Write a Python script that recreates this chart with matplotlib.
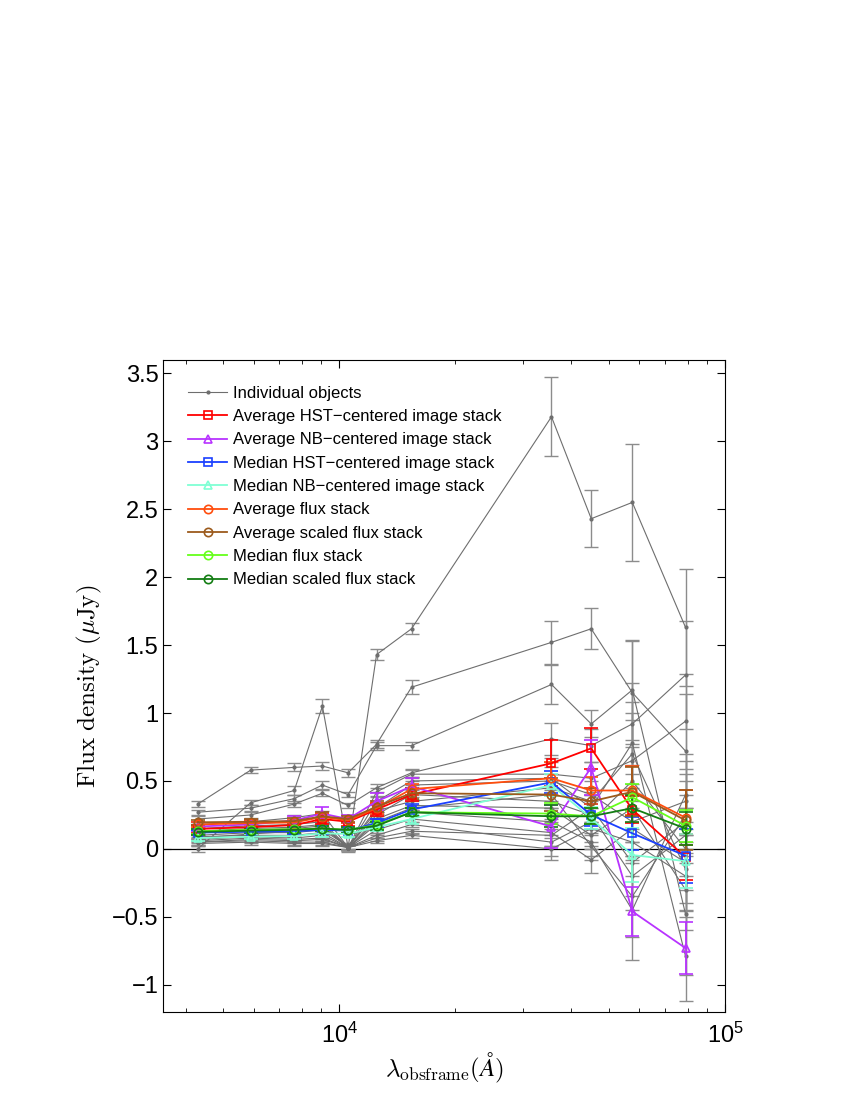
import numpy as np
import matplotlib
matplotlib.use('Agg')
import matplotlib.pyplot as plt

plt.rcParams['font.family'] = ['Liberation Sans', 'DejaVu Sans']
plt.rcParams['mathtext.fontset'] = 'cm'

# observed-frame wavelengths (Angstrom)
wave = [4300, 5900, 7650, 9050, 10550, 12500, 15400, 35500, 45000, 57500, 79000]

# individual objects (uJy) and their errors
objects = [
    [0.00, 0.34, 0.43, 1.05, 0.01, 1.43, 1.62, 3.18, 2.43, 2.55, 1.63],
    [0.33, 0.58, 0.60, 0.61, 0.56, 0.77, 1.19, 1.52, 1.62, 1.15, 0.72],
    [0.27, 0.30, 0.37, 0.47, 0.40, 0.76, 0.76, 1.21, 0.92, 1.17, -0.48],
    [0.22, 0.25, 0.33, 0.41, 0.32, 0.45, 0.56, 0.81, 0.76, 0.92, 1.28],
    [0.18, 0.20, 0.23, 0.26, 0.01, 0.42, 0.55, 0.55, 0.52, 0.65, 0.94],
    [0.15, 0.17, 0.18, 0.20, 0.01, 0.35, 0.50, 0.52, 0.30, 0.78, -0.79],
    [0.12, 0.14, 0.15, 0.17, 0.01, 0.30, 0.47, 0.50, 0.40, 0.20, 0.35],
    [0.10, 0.12, 0.12, 0.14, 0.02, 0.25, 0.40, 0.35, 0.25, -0.20, 0.10],
    [0.09, 0.10, 0.10, 0.12, 0.01, 0.22, 0.32, 0.30, 0.10, 0.30, -0.30],
    [0.07, 0.09, 0.08, 0.10, 0.01, 0.18, 0.27, 0.20, 0.05, -0.45, 0.40],
    [0.06, 0.08, 0.07, 0.08, 0.01, 0.14, 0.22, 0.12, -0.08, 0.15, -0.10],
    [0.05, 0.07, 0.06, 0.07, 0.01, 0.10, 0.18, 0.05, 0.20, 0.50, 0.00],
    [0.05, 0.06, 0.05, 0.05, 0.01, 0.08, 0.13, 0.10, 0.30, -0.10, 0.20],
    [0.04, 0.05, 0.04, 0.04, 0.01, 0.06, 0.10, 0.00, 0.15, 0.05, -0.20],
    [0.08, 0.11, 0.13, 0.16, 0.01, 0.20, 0.30, 0.40, 0.02, -0.35, 0.25],
    [0.13, 0.15, 0.16, 0.18, 0.01, 0.28, 0.35, 0.45, 0.35, 0.70, -0.15],
]
obj_err = [
    [0.02, 0.02, 0.03, 0.05, 0.03, 0.04, 0.04, 0.29, 0.21, 0.43, 0.43],
    [0.02, 0.02, 0.03, 0.03, 0.03, 0.03, 0.05, 0.16, 0.15, 0.38, 0.42],
    [0.02, 0.02, 0.03, 0.03, 0.02, 0.03, 0.03, 0.14, 0.10, 0.37, 0.45],
    [0.02, 0.02, 0.02, 0.02, 0.02, 0.03, 0.03, 0.12, 0.12, 0.30, 0.40],
    [0.02, 0.02, 0.02, 0.02, 0.02, 0.03, 0.03, 0.12, 0.12, 0.30, 0.35],
    [0.02, 0.02, 0.02, 0.02, 0.02, 0.03, 0.03, 0.12, 0.12, 0.30, 0.33],
    [0.02, 0.02, 0.02, 0.02, 0.02, 0.03, 0.03, 0.10, 0.10, 0.25, 0.30],
    [0.02, 0.02, 0.02, 0.02, 0.02, 0.02, 0.03, 0.10, 0.10, 0.25, 0.30],
    [0.02, 0.02, 0.02, 0.02, 0.02, 0.02, 0.03, 0.10, 0.10, 0.25, 0.30],
    [0.02, 0.02, 0.02, 0.02, 0.02, 0.02, 0.02, 0.10, 0.10, 0.37, 0.30],
    [0.02, 0.02, 0.02, 0.02, 0.02, 0.02, 0.02, 0.10, 0.10, 0.25, 0.30],
    [0.02, 0.02, 0.02, 0.02, 0.02, 0.02, 0.02, 0.10, 0.10, 0.25, 0.30],
    [0.02, 0.02, 0.02, 0.02, 0.02, 0.02, 0.02, 0.08, 0.10, 0.25, 0.30],
    [0.02, 0.02, 0.02, 0.02, 0.02, 0.02, 0.02, 0.08, 0.10, 0.25, 0.30],
    [0.02, 0.02, 0.02, 0.02, 0.02, 0.02, 0.02, 0.10, 0.10, 0.30, 0.30],
    [0.02, 0.02, 0.02, 0.02, 0.02, 0.02, 0.03, 0.10, 0.10, 0.30, 0.30],
]

# stacks
stack_labels = ['Average HST\u2212centered image stack', 'Average NB\u2212centered image stack',
                'Median HST\u2212centered image stack', 'Median NB\u2212centered image stack',
                'Average flux stack', 'Average scaled flux stack',
                'Median flux stack', 'Median scaled flux stack']
avg_hst = [0.147, 0.16, 0.176, 0.22, 0.20, 0.29, 0.40, 0.63, 0.74, 0.29, -0.06]
avg_nb = [0.165, 0.18, 0.21, 0.26, 0.22, 0.35, 0.46, 0.165, 0.60, -0.46, -0.73]
med_hst = [0.12, 0.127, 0.13, 0.14, 0.135, 0.19, 0.29, 0.49, 0.25, 0.115, -0.05]
med_nb = [0.08, 0.09, 0.095, 0.115, 0.11, 0.16, 0.22, 0.47, 0.225, -0.045, -0.09]
avg_flux = [0.18, 0.19, 0.195, 0.235, 0.21, 0.30, 0.44, 0.52, 0.43, 0.43, 0.23]
avg_scaled = [0.196, 0.20, 0.205, 0.24, 0.22, 0.31, 0.41, 0.40, 0.35, 0.42, 0.21]
med_flux = [0.13, 0.14, 0.145, 0.15, 0.14, 0.175, 0.27, 0.26, 0.24, 0.38, 0.17]
med_scaled = [0.125, 0.135, 0.14, 0.15, 0.14, 0.17, 0.27, 0.24, 0.24, 0.30, 0.15]

avg_hst_err = [0.03, 0.03, 0.03, 0.04, 0.03, 0.05, 0.05, 0.17, 0.15, 0.10, 0.17]
avg_nb_err = [0.03, 0.03, 0.03, 0.05, 0.03, 0.06, 0.06, 0.16, 0.20, 0.18, 0.19]
med_hst_err = [0.02, 0.02, 0.02, 0.03, 0.02, 0.03, 0.04, 0.08, 0.08, 0.12, 0.20]
med_nb_err = [0.02, 0.02, 0.02, 0.03, 0.02, 0.03, 0.04, 0.08, 0.08, 0.20, 0.20]
avg_flux_err = [0.02, 0.02, 0.02, 0.03, 0.02, 0.04, 0.04, 0.12, 0.10, 0.18, 0.20]
avg_scaled_err = [0.02, 0.02, 0.02, 0.03, 0.02, 0.04, 0.04, 0.12, 0.10, 0.18, 0.22]
med_flux_err = [0.02, 0.02, 0.02, 0.02, 0.02, 0.03, 0.03, 0.08, 0.06, 0.10, 0.12]
med_scaled_err = [0.02, 0.02, 0.02, 0.02, 0.02, 0.03, 0.03, 0.08, 0.06, 0.10, 0.12]

stacks = [avg_hst, avg_nb, med_hst, med_nb, avg_flux, avg_scaled, med_flux, med_scaled]
stack_errs = [avg_hst_err, avg_nb_err, med_hst_err, med_nb_err,
              avg_flux_err, avg_scaled_err, med_flux_err, med_scaled_err]
colors = ['#ff0000', '#b833ff', '#1a40ff', '#7fffd4', '#ff4d0d', '#9c5a1c', '#66ff1a', '#137d13']
markers = ['s', '^', 's', '^', 'o', 'o', 'o', 'o']

fig = plt.figure(figsize=(8.5, 11), dpi=100)
ax = fig.add_axes([0.192, 0.08, 0.661, 0.593])

handles = []
for i, (flux, err) in enumerate(zip(objects, obj_err)):
    eb = ax.errorbar(wave, flux, yerr=err, color='#6e6e6e', ecolor='#8c8c8c', lw=0.8,
                     elinewidth=1.0, capsize=5, capthick=1.0, marker='.', ms=4, zorder=2)
    if i == 0:
        handles.append(eb[0])

for flux, err, c, m in zip(stacks, stack_errs, colors, markers):
    eb = ax.errorbar(wave, flux, yerr=err, color=c, lw=1.3, elinewidth=1.3, capsize=5,
                     capthick=1.3, marker=m, ms=6, mfc='none', mec=c, mew=1.2, zorder=3)
    handles.append(eb[0])

ax.axhline(0, color='k', lw=0.9, zorder=1)

ax.set_xscale('log')
ax.set_xlim(3500, 1e5)
ax.set_ylim(-1.2, 3.6)
ax.set_yticks([-1, -0.5, 0, 0.5, 1, 1.5, 2, 2.5, 3, 3.5])
ax.set_yticklabels(['\u22121', '\u22120.5', '0', '0.5', '1', '1.5', '2', '2.5', '3', '3.5'])
ax.tick_params(which='both', direction='in', top=True, right=True, labelsize=17)
ax.tick_params(which='major', length=6)
ax.tick_params(which='minor', length=3)
ax.tick_params(axis='x', pad=8)

ax.set_xlabel(r'$\lambda_{\mathrm{obsframe}}(\AA)$', fontsize=18, labelpad=2)
ax.set_ylabel(r'$\mathrm{Flux\ density\ (\mu Jy)}$', fontsize=18, labelpad=6)

ax.legend(handles, ['Individual objects'] + stack_labels, loc='upper left',
          bbox_to_anchor=(0.045, 0.96), frameon=False, fontsize=12,
          handlelength=2.3, handletextpad=0.35, labelspacing=0.5, borderpad=0,
          borderaxespad=0)

plt.savefig('out.png', dpi=100)
